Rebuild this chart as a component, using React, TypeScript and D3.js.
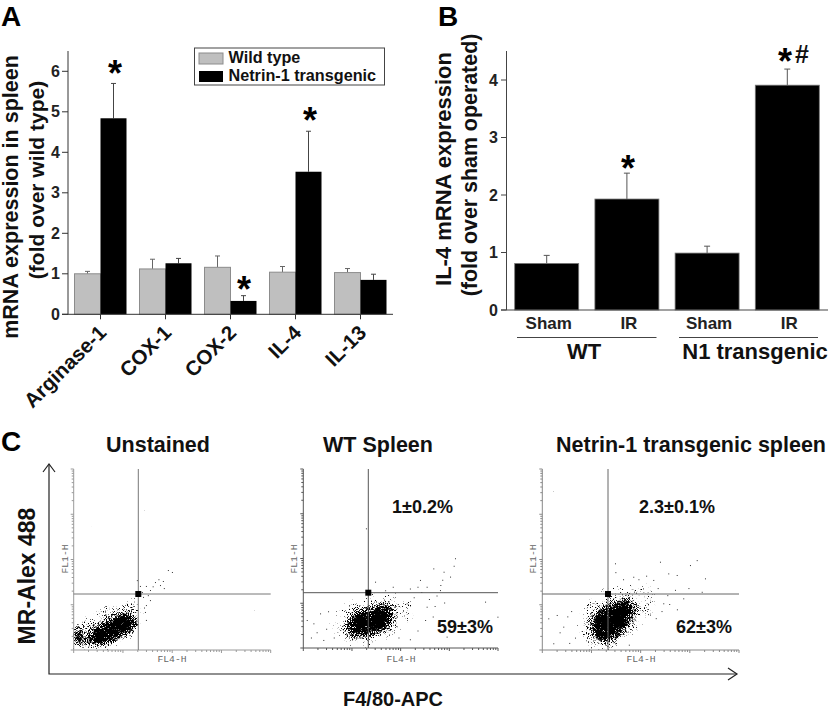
import React from "react";
import * as d3 from "d3";

const FONT = "'Liberation Sans', Arial, sans-serif";

// Panel A
const genes = ["Arginase-1", "COX-1", "COX-2", "IL-4", "IL-13"];
const wildType = [1.0, 1.12, 1.16, 1.04, 1.03];
const wildTypeTop = [1.06, 1.36, 1.44, 1.18, 1.13];
const transgenic = [4.84, 1.26, 0.33, 3.52, 0.85];
const transgenicTop = [5.7, 1.38, 0.46, 4.52, 0.99];
const ticksA = [0, 1, 2, 3, 4, 5, 6];

// Panel B
const groupsB = ["Sham a", "IR a", "Sham b", "IR b"];
const labelsB = ["Sham", "IR", "Sham", "IR"];
const valuesB = [0.81, 1.93, 0.99, 3.91];
const topsB = [0.95, 2.38, 1.11, 4.19];
const ticksB = [0, 1, 2, 3, 4];

// Panel C, in cytometer channels (0-1023)
type P = [number, number];
const core1: P[] = [[64, 57], [111, 124], [188, 170], [266, 209], [323, 181], [318, 124], [251, 79], [178, 40], [100, 34]];
const edge1: P[] = [[2, 130], [40, 110], [40, 40], [2, 30]];
const mid1: P[] = [[0, 190], [74, 190], [137, 257], [240, 280], [334, 314], [360, 198], [300, 58], [163, 0], [0, 0]];
const sparse1: P[] = [[354, 328], [375, 362], [396, 339], [422, 384], [448, 367], [463, 390], [489, 452], [510, 441], [396, 282], [375, 254], [370, 215], [375, 170], [468, 350], [344, 362], [328, 395], [360, 300], [385, 310], [410, 360], [440, 400], [365, 240]];

const core2: P[] = [[230, 131], [272, 200], [350, 217], [429, 251], [471, 206], [455, 131], [377, 86], [298, 69], [245, 80]];
const mid2: P[] = [[130, 149], [209, 256], [350, 313], [518, 313], [591, 217], [518, 93], [350, 7], [209, 19]];
const sparse2: P[] = [[797, 513], [683, 455], [737, 436], [771, 408], [613, 389], [648, 350], [718, 331], [543, 255], [648, 236], [955, 265], [1020, 179], [753, 65], [329, 684], [377, 379], [88, 198], [53, 141], [18, 160], [105, 46], [700, 300], [660, 280], [620, 320], [580, 290], [740, 260], [690, 240], [600, 350], [560, 340], [470, 350], [430, 330], [730, 390], [790, 470], [680, 180], [640, 160], [600, 100], [70, 90], [130, 210], [40, 60], [120, 110], [160, 60], [720, 360], [500, 60], [560, 50]];

const core3: P[] = [[258, 141], [300, 226], [378, 260], [456, 283], [477, 215], [430, 124], [363, 57], [290, 57]];
const mid3: P[] = [[176, 141], [238, 293], [352, 349], [518, 377], [606, 294], [518, 131], [378, 1], [238, 1]];
const sparse3: P[] = [[803, 508], [612, 499], [699, 424], [846, 405], [768, 480], [655, 433], [577, 396], [829, 329], [733, 292], [629, 264], [75, 198], [31, 179], [109, 132], [57, 38], [378, 490], [473, 414], [380, 440], [420, 400], [540, 420], [500, 400], [600, 350], [650, 310], [690, 340], [620, 220], [660, 260], [700, 230], [560, 200], [590, 180], [130, 190], [90, 100], [150, 220], [170, 70], [140, 40], [450, 30], [760, 350]];

const chanToDecade = [1, 10, 100, 1000, 10000];
const tickMults = [1, 2, 3, 4, 5, 6, 7, 8, 9];

const plots = [
  { id: "a", l: 73.7, r: 270.7, t: 469, b: 650, gx: 138.3, gy: 594, axis: "#9a9a9a", gate: "#777", core: core1, extra: edge1, mid: mid1, sparse: sparse1, seed: 4, fl4: 172 },
  { id: "b", l: 303.3, r: 498, t: 469, b: 648, gx: 368.3, gy: 592.7, axis: "#555", gate: "#555", core: core2, extra: null, mid: mid2, sparse: sparse2, seed: 9, fl4: 401 },
  { id: "c", l: 542.3, r: 739, t: 469, b: 650, gx: 608, gy: 594, axis: "#888", gate: "#666", core: core3, extra: null, mid: mid3, sparse: sparse3, seed: 15, fl4: 641 },
];

const titlesC = [
  { text: "Unstained", x: 158 },
  { text: "WT Spleen", x: 378 },
  { text: "Netrin-1 transgenic spleen", x: 691 },
];
const percents = [
  { text: "1±0.2%", x: 392, y: 513 },
  { text: "59±3%", x: 437, y: 633 },
  { text: "2.3±0.1%", x: 639, y: 513 },
  { text: "62±3%", x: 676, y: 633 },
];

const yA = d3.scaleLinear().domain([0, 6]).range([314.3, 71.3]);
const xA = d3.scaleBand<string>().domain(genes).range([68, 393]);
const yB = d3.scaleLinear().domain([0, 4]).range([310, 80]);
const xB = d3.scaleBand<string>().domain(groupsB).range([506.6, 827.4]);

const Star = ({ x, y, size = 36 }: { x: number; y: number; size?: number }) => (
  <text x={x} y={y + size * 0.56} textAnchor="middle" fontSize={size} fontWeight="bold" fill="#000">*</text>
);

const ErrBar = ({ x, from, to, hw, color = "#444" }: { x: number; from: number; to: number; hw: number; color?: string }) => (
  <g stroke={color} strokeWidth={1}>
    <line x1={x} x2={x} y1={from} y2={to} />
    <line x1={x - hw} x2={x + hw} y1={to} y2={to} />
  </g>
);

function FlowPlot({ p }: { p: (typeof plots)[number] }) {
  const cx = d3.scaleLinear().domain([0, 1023]).range([p.l, p.r]);
  const cy = d3.scaleLinear().domain([0, 1023]).range([p.b, p.t]);
  const logX = d3.scaleLog().domain([1, 10000]).range([p.l, p.r]);
  const logY = d3.scaleLog().domain([1, 10000]).range([p.b, p.t]);
  const blob = d3.line<P>().x((d) => cx(d[0])).y((d) => cy(d[1])).curve(d3.curveCardinalClosed.tension(0.3));
  const vals = chanToDecade.slice(0, 4).flatMap((dec) => tickMults.map((m) => dec * m)).concat([10000]);
  const fid = `speckle-${p.id}`;
  return (
    <g>
      <defs>
        <filter id={fid} filterUnits="userSpaceOnUse" x={p.l} y={p.t} width={p.r - p.l + 1} height={p.b - p.t + 1} colorInterpolationFilters="sRGB">
          <feTurbulence type="fractalNoise" baseFrequency="0.95" numOctaves={2} seed={p.seed} result="n" />
          <feColorMatrix in="n" type="matrix" values="0 0 0 0 0  0 0 0 0 0  0 0 0 0 0  1 0 0 0 0" result="na" />
          <feGaussianBlur in="SourceAlpha" stdDeviation={4} result="b" />
          <feComposite in="na" in2="b" operator="arithmetic" k1={0} k2={1} k3={0.7} k4={0} result="sum" />
          <feComponentTransfer in="sum">
            <feFuncA type="linear" slope={8} intercept={-7} />
          </feComponentTransfer>
        </filter>
      </defs>
      <g filter={`url(#${fid})`}>
        <path d={blob(p.mid) ?? ""} fill="#000" opacity={0.38} />
        <path d={blob(p.core) ?? ""} fill="#000" />
        {p.extra && <path d={blob(p.extra) ?? ""} fill="#000" />}
      </g>
      {p.sparse.map((d, i) => (
        <rect key={i} x={cx(d[0])} y={cy(d[1])} width={1} height={1} fill="#333" />
      ))}
      <g stroke={p.axis} strokeWidth={1}>
        <line x1={p.l} x2={p.r} y1={p.b} y2={p.b} />
        <line x1={p.l} x2={p.l} y1={p.t} y2={p.b} />
        {vals.map((v, i) => {
          const big = Math.log10(v) % 1 === 0;
          return (
            <g key={i}>
              <line x1={logX(v)} x2={logX(v)} y1={p.b} y2={p.b + (big ? 3 : 2)} />
              <line x1={p.l} x2={p.l - (big ? 3 : 2)} y1={logY(v)} y2={logY(v)} />
            </g>
          );
        })}
      </g>
      <g stroke={p.gate} strokeWidth={1}>
        <line x1={p.gx} x2={p.gx} y1={p.t} y2={p.b} />
        <line x1={p.l} x2={p.r} y1={p.gy} y2={p.gy} />
      </g>
      <rect x={p.gx - 3} y={p.gy - 3} width={6} height={6} fill="#000" />
      <text x={p.fl4} y={662} textAnchor="middle" fontFamily="'Liberation Mono', monospace" fontSize={9.7} fill="#666">FL4-H</text>
      <text transform={`translate(${p.l - 6},559) rotate(-90)`} textAnchor="middle" fontFamily="'Liberation Mono', monospace" fontSize={9.7} fill="#666">FL1-H</text>
    </g>
  );
}

export default function App() {
  const bw = 26;
  return (
    <svg width={830} height={715} viewBox="0 0 830 715" style={{ position: "absolute", left: 0, top: 0, background: "#fff" }} fontFamily={FONT}>
      {/* Panel letters */}
      <g fontSize={28} fontWeight="bold" fill="#000">
        <text x={1} y={25.5}>A</text>
        <text x={438} y={25.5}>B</text>
        <text x={1} y={451}>C</text>
      </g>

      {/* Panel A */}
      <g>
        {genes.map((g, i) => {
          const c = (xA(g) ?? 0) + xA.bandwidth() / 2;
          return (
            <g key={g}>
              <ErrBar x={c - bw / 2} from={yA(wildType[i])} to={yA(wildTypeTop[i])} hw={2.5} color="#666" />
              <ErrBar x={c + bw / 2} from={yA(transgenic[i])} to={yA(transgenicTop[i])} hw={2.5} color="#444" />
              <rect x={c - bw} y={yA(wildType[i])} width={bw} height={yA(0) - yA(wildType[i])} fill="#bfbfbf" stroke="#8c8c8c" strokeWidth={1} />
              <rect x={c} y={yA(transgenic[i])} width={bw} height={yA(0) - yA(transgenic[i])} fill="#000" />
              <line x1={c} x2={c} y1={yA(0)} y2={yA(0) + 5} stroke="#333" />
              <text transform={`translate(${c + 7},${334}) rotate(-45)`} textAnchor="end" fontSize={20.5} fontWeight="bold" fill="#111">{g}</text>
            </g>
          );
        })}
        <g stroke="#333" strokeWidth={1}>
          <line x1={68} x2={68} y1={51} y2={yA(0)} />
          <line x1={62} x2={393} y1={yA(0)} y2={yA(0)} />
          {ticksA.map((t) => <line key={t} x1={62} x2={68} y1={yA(t)} y2={yA(t)} />)}
        </g>
        {ticksA.map((t) => (
          <text key={t} x={60} y={yA(t) + 5.5} textAnchor="end" fontSize={16} fontWeight="bold" fill="#222">{t}</text>
        ))}
        <text transform="translate(18,197) rotate(-90)" textAnchor="middle" fontSize={21.5} fontWeight="bold" fill="#111">mRNA expression in spleen</text>
        <text transform="translate(43.5,180) rotate(-90)" textAnchor="middle" fontSize={21} fontWeight="bold" fill="#111">(fold over wild type)</text>
        <Star x={115} y={66} />
        <Star x={244} y={282} />
        <Star x={310} y={113} />
        <rect x={194.5} y={48} width={190} height={37} fill="#fff" stroke="#444" strokeWidth={1} />
        <rect x={199} y={53} width={24} height={11} fill="#bfbfbf" stroke="#8c8c8c" />
        <rect x={199} y={71} width={24} height={11} fill="#000" />
        <g fontSize={16.2} fontWeight="bold" fill="#111">
          <text x={228.5} y={63}>Wild type</text>
          <text x={228.5} y={81}>Netrin-1 transgenic</text>
        </g>
      </g>

      {/* Panel B */}
      <g>
        {groupsB.map((g, i) => {
          const x = xB(g) ?? 0;
          const c = x + xB.bandwidth() / 2;
          return (
            <g key={g}>
              <ErrBar x={c} from={yB(valuesB[i])} to={yB(topsB[i])} hw={3} color="#555" />
              <rect x={c - 32} y={yB(valuesB[i])} width={64} height={yB(0) - yB(valuesB[i])} fill="#000" stroke="#777" strokeWidth={0.8} />
              <text x={c + 2} y={329} textAnchor="middle" fontSize={17} fontWeight="bold" fill="#222">{labelsB[i]}</text>
            </g>
          );
        })}
        <g stroke="#444" strokeWidth={1}>
          <line x1={506.5} x2={506.5} y1={51} y2={yB(0)} />
          <line x1={501} x2={828} y1={yB(0)} y2={yB(0)} />
          {ticksB.map((t) => <line key={t} x1={501} x2={506.5} y1={yB(t)} y2={yB(t)} />)}
          <line x1={517} x2={656.5} y1={337.5} y2={337.5} />
          <line x1={679} x2={818} y1={337.5} y2={337.5} />
        </g>
        {ticksB.map((t) => (
          <text key={t} x={498} y={yB(t) + 5.5} textAnchor="end" fontSize={16} fontWeight="bold" fill="#222">{t}</text>
        ))}
        <text x={584} y={359} textAnchor="middle" fontSize={22} fontWeight="bold" fill="#111">WT</text>
        <text x={755} y={359} textAnchor="middle" fontSize={22} fontWeight="bold" fill="#111">N1 transgenic</text>
        <text transform="translate(451,169) rotate(-90)" textAnchor="middle" fontSize={22} fontWeight="bold" fill="#111">IL-4 mRNA expression</text>
        <text transform="translate(477,165) rotate(-90)" textAnchor="middle" fontSize={21.4} fontWeight="bold" fill="#111">(fold over sham operated)</text>
        <Star x={628} y={161} />
        <Star x={785} y={54} />
        <text x={802} y={63} textAnchor="middle" fontSize={25} fontWeight="bold" fill="#111">#</text>
      </g>

      {/* Panel C */}
      <g>
        {titlesC.map((t) => (
          <text key={t.text} x={t.x} y={452} textAnchor="middle" fontSize={21.5} fontWeight="bold" fill="#111">{t.text}</text>
        ))}
        {plots.map((p) => <FlowPlot key={p.id} p={p} />)}
        {percents.map((t) => (
          <text key={t.text} x={t.x} y={t.y} fontSize={18} fontWeight="bold" fill="#111">{t.text}</text>
        ))}
        <g fill="none" stroke="#222" strokeWidth={1.2}>
          <path d="M49,464 V674 H737" />
          <path d="M43,472 L49,464 L55,472" />
          <path d="M728,668 L737,674 L728,680" />
        </g>
        <text transform="translate(35,576) rotate(-90)" textAnchor="middle" fontSize={23} fontWeight="bold" fill="#111">MR-Alex 488</text>
        <text x={393} y={706} textAnchor="middle" fontSize={20} fontWeight="bold" fill="#111">F4/80-APC</text>
      </g>
    </svg>
  );
}
